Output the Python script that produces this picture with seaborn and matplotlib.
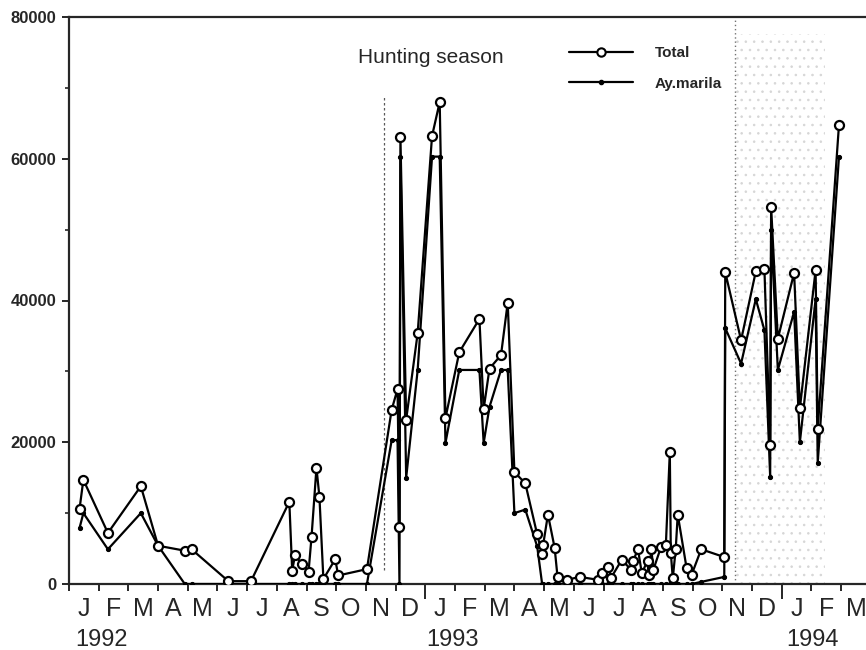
import calendar

import numpy as np
import pandas as pd
import matplotlib
matplotlib.use("Agg")
import matplotlib.pyplot as plt
from matplotlib.lines import Line2D
import matplotlib.transforms as mtransforms
import seaborn as sns

# ---- counts per survey date -------------------------------------------------
survey_dates = [
    "1992-01-12", "1992-01-16", "1992-02-10", "1992-03-14", "1992-04-01",
    "1992-04-28", "1992-05-05", "1992-06-12", "1992-07-05", "1992-08-14",
    "1992-08-17", "1992-08-20", "1992-08-27", "1992-09-03", "1992-09-06",
    "1992-09-11", "1992-09-14", "1992-09-18", "1992-09-30", "1992-10-03",
    "1992-11-02", "1992-11-27", "1992-12-03", "1992-12-05", "1992-12-06",
    "1992-12-12", "1992-12-24", "1993-01-08", "1993-01-16", "1993-01-22",
    "1993-02-05", "1993-02-24", "1993-02-28", "1993-03-06", "1993-03-18",
    "1993-03-25", "1993-04-01", "1993-04-12", "1993-04-24", "1993-04-29",
    "1993-04-30", "1993-05-05", "1993-05-12", "1993-05-15", "1993-05-25",
    "1993-06-07", "1993-06-25", "1993-06-29", "1993-07-06", "1993-07-09",
    "1993-07-20", "1993-07-30", "1993-08-01", "1993-08-06", "1993-08-10",
    "1993-08-16", "1993-08-17", "1993-08-20", "1993-08-22", "1993-08-30",
    "1993-09-04", "1993-09-08", "1993-09-09", "1993-09-11", "1993-09-14",
    "1993-09-16", "1993-09-25", "1993-09-30", "1993-10-10", "1993-11-03",
    "1993-11-04", "1993-11-20", "1993-12-05", "1993-12-14", "1993-12-20",
    "1993-12-21", "1993-12-28", "1994-01-14", "1994-01-20", "1994-02-05",
    "1994-02-07", "1994-02-27",
]

total = [
    10600, 14700, 7200, 13800, 5400,
    4700, 4900, 400, 400, 11600,
    1900, 4100, 2800, 1700, 6600,
    16400, 12300, 700, 3500, 1200,
    2100, 24600, 27500, 8000, 63000,
    23200, 35400, 63200, 68000, 23400,
    32700, 37400, 24700, 30400, 32300,
    39700, 15800, 14200, 7000, 4200,
    5500, 9800, 5100, 1000, 600,
    1000, 600, 1500, 2400, 900,
    3400, 2000, 3300, 4900, 1500,
    3300, 1300, 4900, 2000, 5200,
    5500, 18600, 4400, 800, 5000,
    9800, 2200, 1300, 4900, 3800,
    44000, 34400, 44100, 44400, 19600,
    53200, 34600, 43900, 24800, 44300,
    21900, 64700,
]

aythya_marila = [
    7900, 10000, 4900, 10000, 5400,
    0, 0, 0, 0, 0,
    0, 0, 0, 0, 0,
    0, 0, 0, 0, 0,
    0, 20300, 20300, 0, 60300,
    15000, 30200, 60300, 60300, 19900,
    30200, 30200, 19900, 25000, 30200,
    30200, 10000, 10500, 5300, 0,
    0, 0, 0, 0, 0,
    0, 0, 0, 0, 0,
    0, 0, 0, 0, 0,
    0, 0, 0, 0, 0,
    0, 0, 0, 0, 0,
    0, 0, 0, 300, 1000,
    36100, 31100, 40200, 35800, 15100,
    50000, 30200, 38400, 20000, 40200,
    17100, 60200,
]

month_labels = ["J", "F", "M", "A", "M", "J", "J", "A", "S", "O", "N", "D",
                "J", "F", "M", "A", "M", "J", "J", "A", "S", "O", "N", "D",
                "J", "F", "M"]
year_labels = ["1992", "1993", "1994"]
year_label_pos = [1.08, 12.93, 25.05]

START_YEAR = 1992


def month_position(d):
    """Months elapsed since 1 Jan 1992, with the day as a month fraction."""
    days = calendar.monthrange(d.year, d.month)[1]
    return (d.year - START_YEAR) * 12 + (d.month - 1) + (d.day - 1) / days


df = pd.DataFrame({
    "date": pd.to_datetime(survey_dates),
    "Total": total,
    "Ay.marila": aythya_marila,
})
df["pos"] = [month_position(d.date()) for d in df["date"]]

# ---- figure -----------------------------------------------------------------
sns.set_style("ticks")
plt.rcParams["font.family"] = ["Liberation Sans", "DejaVu Sans"]
plt.rcParams["hatch.linewidth"] = 0.6

fig = plt.figure(figsize=(8.66, 6.5), dpi=100)
ax = fig.add_axes([69 / 866, 66 / 650, 797 / 866, 567 / 650])

# hunting season markers
ax.axvspan(22.42, 25.45, ymin=0, ymax=0.97, facecolor="none",
           edgecolor="#d6d6d6", hatch="..", lw=0, zorder=0)
ax.vlines(22.42, 0, 80000, colors="0.45", linestyles=(0, (1, 2)), lw=1.0, zorder=1)
ax.vlines(10.61, 2000, 69000, colors="0.35", linestyles=(0, (2, 2)), lw=0.9, zorder=1)

sns.lineplot(data=df, x="pos", y="Ay.marila", estimator=None, sort=False,
             color="black", lw=1.6, marker="o", markersize=3,
             markerfacecolor="black", markeredgecolor="black", ax=ax, zorder=3)
sns.lineplot(data=df, x="pos", y="Total", estimator=None, sort=False,
             color="black", lw=1.6, marker="o", markersize=6.5,
             markerfacecolor="white", markeredgecolor="black",
             markeredgewidth=1.6, ax=ax, zorder=4)

ax.set_xlim(0, 26.84)
ax.set_ylim(0, 80000)
ax.set_xlabel("")
ax.set_ylabel("")

# axes frame
for side in ("left", "bottom", "top"):
    ax.spines[side].set_linewidth(1.6)
ax.spines["right"].set_visible(False)

# y axis
ax.set_yticks(np.arange(0, 80001, 20000))
ax.set_yticks(np.arange(10000, 80000, 20000), minor=True)
ax.tick_params(axis="y", which="major", direction="out", length=5, width=1.4,
               pad=4, labelsize=12)
ax.tick_params(axis="y", which="minor", direction="out", length=3, width=1.2)
for lab in ax.get_yticklabels():
    lab.set_fontweight("bold")

# x axis: ticks on month boundaries, letters centred in each month
ax.set_xticks(np.arange(0, 27))
ax.set_xticklabels([])
ax.set_xticks(np.arange(0.5, 27, 1), minor=True)
ax.set_xticklabels(month_labels, minor=True)
ax.tick_params(axis="x", which="major", direction="out", length=5, width=1.4)
ax.tick_params(axis="x", which="minor", length=0, pad=9, labelsize=18)
for i in (12, 24):
    ax.xaxis.get_major_ticks()[i].tick1line.set_markersize(11)

trans = mtransforms.blended_transform_factory(ax.transData, fig.transFigure)
for lab, xp in zip(year_labels, year_label_pos):
    ax.text(xp, 0.0154, lab, transform=trans, ha="center", va="center",
            fontsize=17, clip_on=False)

ax.text(0.3626, 0.9277, "Hunting season", transform=ax.transAxes,
        ha="left", va="center", fontsize=15)

handles = [
    Line2D([], [], color="black", lw=1.6, marker="o", markersize=6,
           markerfacecolor="white", markeredgecolor="black", markeredgewidth=1.5),
    Line2D([], [], color="black", lw=1.6, marker="o", markersize=3,
           markerfacecolor="black", markeredgecolor="black"),
]
ax.legend(handles, ["Total", "Ay.marila"], loc="upper left",
          bbox_to_anchor=(0.6274, 0.949), frameon=False, borderaxespad=0,
          borderpad=0, handlelength=4.2, handletextpad=1.4, labelspacing=1.1,
          prop={"size": 11, "weight": "bold"})

fig.savefig("out.png", dpi=100)
